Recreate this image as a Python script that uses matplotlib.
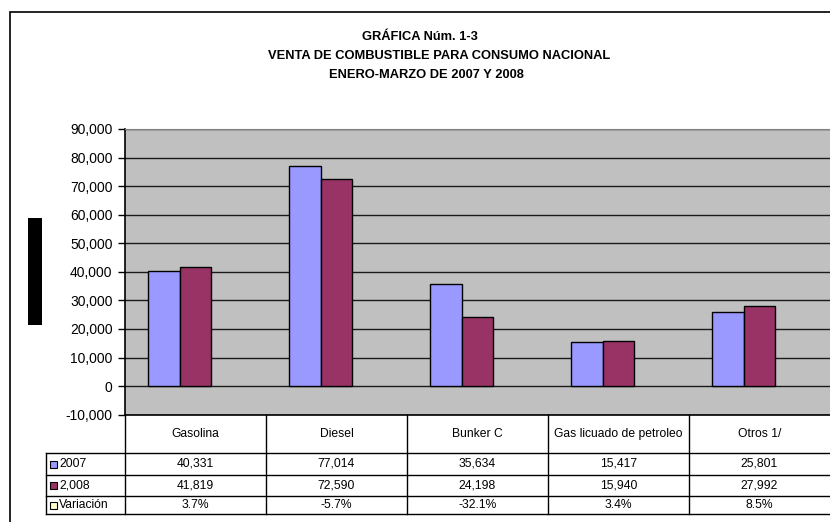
import matplotlib
matplotlib.use("Agg")
import matplotlib.pyplot as plt
from matplotlib.patches import Rectangle
from matplotlib.lines import Line2D
from matplotlib.ticker import FuncFormatter

plt.rcParams['font.family'] = ['Liberation Sans', 'DejaVu Sans']

categorias = ['Gasolina', 'Diesel', 'Bunker C', 'Gas licuado de petroleo', 'Otros 1/']
v2007 = [40331, 77014, 35634, 15417, 25801]
v2008 = [41819, 72590, 24198, 15940, 27992]
variacion = [3.7, -5.7, -32.1, 3.4, 8.5]
series = ['2007', '2,008', 'Variación']
colores = ['#9999FF', '#993366', '#FFFFCC']
titulo = ['GRÁFICA Núm. 1-3',
          'VENTA DE COMBUSTIBLE PARA CONSUMO NACIONAL',
          'ENERO-MARZO DE 2007 Y 2008']

W, H = 830, 522
fig = plt.figure(figsize=(W / 100, H / 100), dpi=100)


def fx(x):
    return x / W


def fy(y):
    return 1 - y / H


# outer frame (extends past right/bottom edge as in the original)
fig.add_artist(Rectangle((fx(10), fy(540)), fx(840), fy(12) - fy(540),
                         transform=fig.transFigure, fill=False, lw=1.2, ec='black'))
# redacted axis label block
fig.add_artist(Rectangle((fx(28), fy(325)), fx(14), fy(218) - fy(325),
                         transform=fig.transFigure, fc='black', ec='none'))

for txt, xc, yc in zip(titulo, [420, 439, 426], [37, 56, 75]):
    fig.text(fx(xc), fy(yc), txt, ha='center', va='center', fontsize=9.3, fontweight='bold')

top, bot, left, right = 129, 414.7, 125, 830
ax = fig.add_axes([fx(left), fy(bot), fx(right - left), fy(top) - fy(bot)])
ax.set_facecolor('#C0C0C0')

x = list(range(len(categorias)))
w = 0.224
datos = [v2007, v2008, [v / 100 for v in variacion]]
for i, (vals, c) in enumerate(zip(datos, colores)):
    ax.bar([xi + (i - 1) * w for xi in x], vals, width=w, color=c,
           edgecolor='black', linewidth=1.0 if i < 2 else 0, zorder=3)

ax.set_xlim(-0.5, len(categorias) - 0.5)
ax.set_ylim(-10000, 90000)
ax.set_yticks(range(-10000, 90001, 10000))
ax.yaxis.set_major_formatter(FuncFormatter(lambda v, p: f'{int(v):,}'))
ax.tick_params(axis='y', labelsize=10, length=5, width=1, pad=4, direction='out')
ax.set_xticks([])
ax.grid(axis='y', color='#1a1a1a', lw=1, zorder=1)
ax.set_axisbelow(True)
ax.spines['right'].set_visible(False)
ax.spines['top'].set_color('#808080')
ax.spines['left'].set_linewidth(1.2)
ax.spines['bottom'].set_linewidth(1.2)

# data table below the plot
ph = bot - top


def ay(ypx):
    return (bot - ypx) / ph


tr = ax.get_xaxis_transform()
rows = [414.7, 453, 475, 496, 514]
edges = [-0.5 + k for k in range(len(categorias))]
lab_left = (46 - left) / (right - left) * len(categorias) - 0.5

# vertical lines
for e in edges:
    ax.add_line(Line2D([e, e], [ay(rows[0]), ay(rows[-1])], transform=tr,
                       color='black', lw=1, clip_on=False))
ax.add_line(Line2D([lab_left, lab_left], [ay(rows[1]), ay(rows[-1])], transform=tr,
                   color='black', lw=1, clip_on=False))
# horizontal lines
for r in rows[1:]:
    ax.add_line(Line2D([lab_left, len(categorias) - 0.5], [ay(r), ay(r)], transform=tr,
                       color='black', lw=1, clip_on=False))

for xi, cat in zip(x, categorias):
    ax.text(xi, ay((rows[0] + rows[1]) / 2), cat, transform=tr, ha='center',
            va='center', fontsize=8.7, clip_on=False)

textos = [[f'{v:,}' for v in v2007], [f'{v:,}' for v in v2008],
          [f'{v:.1f}%' for v in variacion]]
sq = (6.5 / (right - left)) * len(categorias)
for j in range(3):
    yc = ay((rows[j + 1] + rows[j + 2]) / 2)
    for xi, t in zip(x, textos[j]):
        ax.text(xi, yc, t, transform=tr, ha='center', va='center', fontsize=8.7, clip_on=False)
    sx = lab_left + (4 / (right - left)) * len(categorias)
    ax.add_patch(Rectangle((sx, yc - 3.5 / ph), sq, 7 / ph, transform=tr,
                           fc=colores[j], ec='black', lw=0.8, clip_on=False))
    ax.text(sx + sq * 1.4, yc, series[j], transform=tr, ha='left', va='center',
            fontsize=8.7, clip_on=False)

fig.savefig('out.png', dpi=100)
